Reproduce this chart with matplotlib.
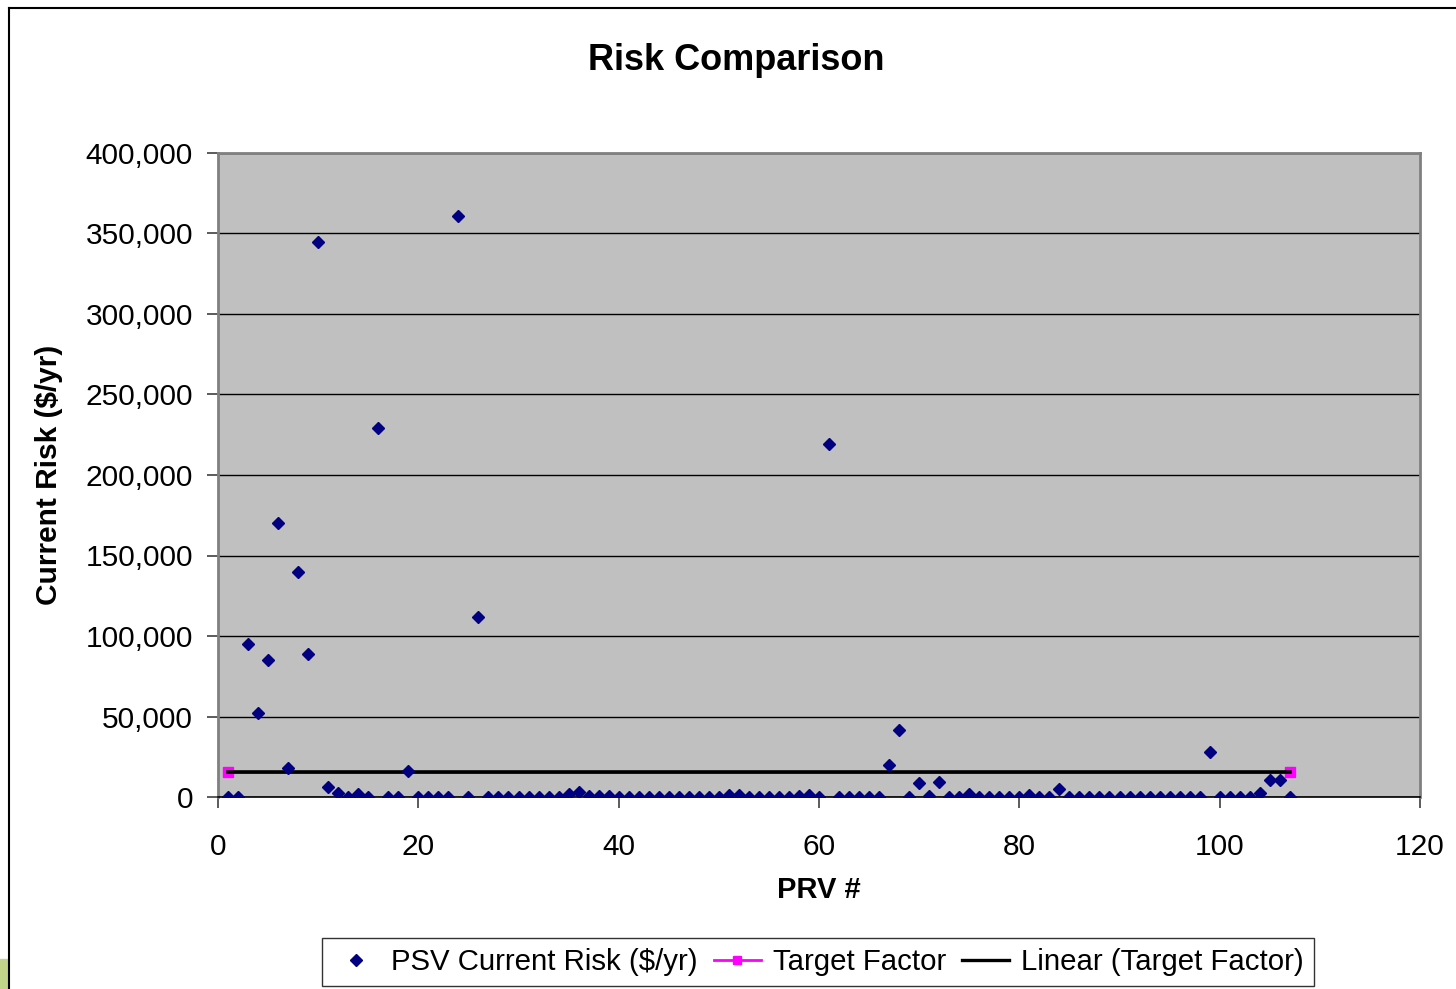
import matplotlib
matplotlib.use("Agg")
import matplotlib.pyplot as plt
import numpy as np
from matplotlib.ticker import FuncFormatter, MultipleLocator
from matplotlib.lines import Line2D
from matplotlib.patches import Rectangle

plt.rcParams['font.family'] = ['Liberation Sans', 'DejaVu Sans']

# PRV numbers 1..107 and risk values
prv = list(range(1, 108))
risk = [
    0, 0, 95000, 52000, 85000, 170000, 18000, 140000, 89000, 345000,      # 1-10
    6500, 2500, 0, 2000, 0, 229000, 0, 0, 16000, 0,                        # 11-20
    0, 0, 0, 361000, 0, 112000, 0, 0, 0, 0,                                # 21-30
    0, 0, 0, 0, 2000, 3000, 500, 500, 800, 0,                              # 31-40
    0, 0, 0, 0, 0, 0, 0, 0, 0, 0,                                          # 41-50
    1500, 1500, 0, 0, 0, 0, 0, 500, 1500, 0,                               # 51-60
    219000, 0, 0, 0, 0, 0, 20000, 41500, 0, 8700,                          # 61-70
    500, 9300, 0, 0, 2000, 0, 0, 0, 0, 0,                                  # 71-80
    1500, 0, 0, 5000, 0, 0, 0, 0, 0, 0,                                    # 81-90
    0, 0, 0, 0, 0, 0, 0, 0, 28000, 0,                                      # 91-100
    0, 0, 0, 2500, 10500, 10500, 0,                                        # 101-107
]
target_x = [1, 107]
target_y = [15500, 15500]

fig = plt.figure(figsize=(14.56, 9.89), dpi=100)
ax = fig.add_axes([218/1456, 1-797/989, (1420-218)/1456, (797-153)/989])
ax.set_facecolor('#C0C0C0')

ax.set_xlim(0, 120)
ax.set_ylim(0, 400000)
ax.yaxis.set_major_locator(MultipleLocator(50000))
ax.xaxis.set_major_locator(MultipleLocator(20))
ax.yaxis.set_major_formatter(FuncFormatter(lambda v, p: f"{int(v):,}"))
ax.grid(axis='y', color='black', linewidth=1.0, zorder=1)
ax.set_axisbelow(True)

ax.plot(target_x, target_y, color='#FF00FF', marker='s', markersize=7,
        linewidth=2, zorder=3, label='Target Factor')
coef = np.polyfit(target_x, target_y, 1)
fx = np.array([min(target_x), max(target_x)])
ax.plot(fx, np.polyval(coef, fx), color='black', linewidth=2.6, zorder=4,
        label='Linear (Target Factor)')
ax.plot(prv, risk, linestyle='none', marker='D', markersize=6.6,
        color='#000080', zorder=5, label='PSV Current Risk ($/yr)')

for s in ['left', 'top', 'right']:
    ax.spines[s].set_color('#808080')
    ax.spines[s].set_linewidth(2)
ax.spines['bottom'].set_color('black')
ax.spines['bottom'].set_linewidth(1.2)

ax.tick_params(axis='both', labelsize=21.5, direction='out', length=8,
               width=1.2, color='#404040')
ax.tick_params(axis='y', pad=10)
ax.tick_params(axis='x', pad=18)

fig.text(736/1456, 1-60/989, 'Risk Comparison', fontsize=26, fontweight='bold',
         ha='center', va='center')
ax.set_xlabel('PRV #', fontsize=21, fontweight='bold', labelpad=11)
ax.set_ylabel('Current Risk ($/yr)', fontsize=21.5, fontweight='bold', labelpad=16)

handles = [
    Line2D([], [], linestyle='none', marker='D', markersize=6, color='#000080'),
    Line2D([], [], color='#FF00FF', marker='s', markersize=6, linewidth=2),
    Line2D([], [], color='black', linewidth=2.4),
]
labels = ['PSV Current Risk ($/yr)', 'Target Factor', 'Linear (Target Factor)']
leg = fig.legend(handles, labels, loc='center', bbox_to_anchor=(818/1456, 1-962/989),
                 ncol=3, fontsize=21.2, frameon=True, fancybox=False,
                 edgecolor='black', handlelength=1.6, handletextpad=0.4,
                 columnspacing=0.55, borderpad=0.35)
leg.get_frame().set_linewidth(1.0)

# outer chart frame
fig.add_artist(Line2D([8.5/1456, 8.5/1456], [1-7.5/989, 0], color='black', linewidth=1.5,
                      transform=fig.transFigure))
fig.add_artist(Line2D([8.5/1456, 1], [1-7.5/989, 1-7.5/989], color='black', linewidth=1.5,
                      transform=fig.transFigure))
fig.add_artist(Rectangle((0, 0), 7/1456, 30/989, color='#C2D38A', transform=fig.transFigure))

fig.savefig('out.png', dpi=100)
